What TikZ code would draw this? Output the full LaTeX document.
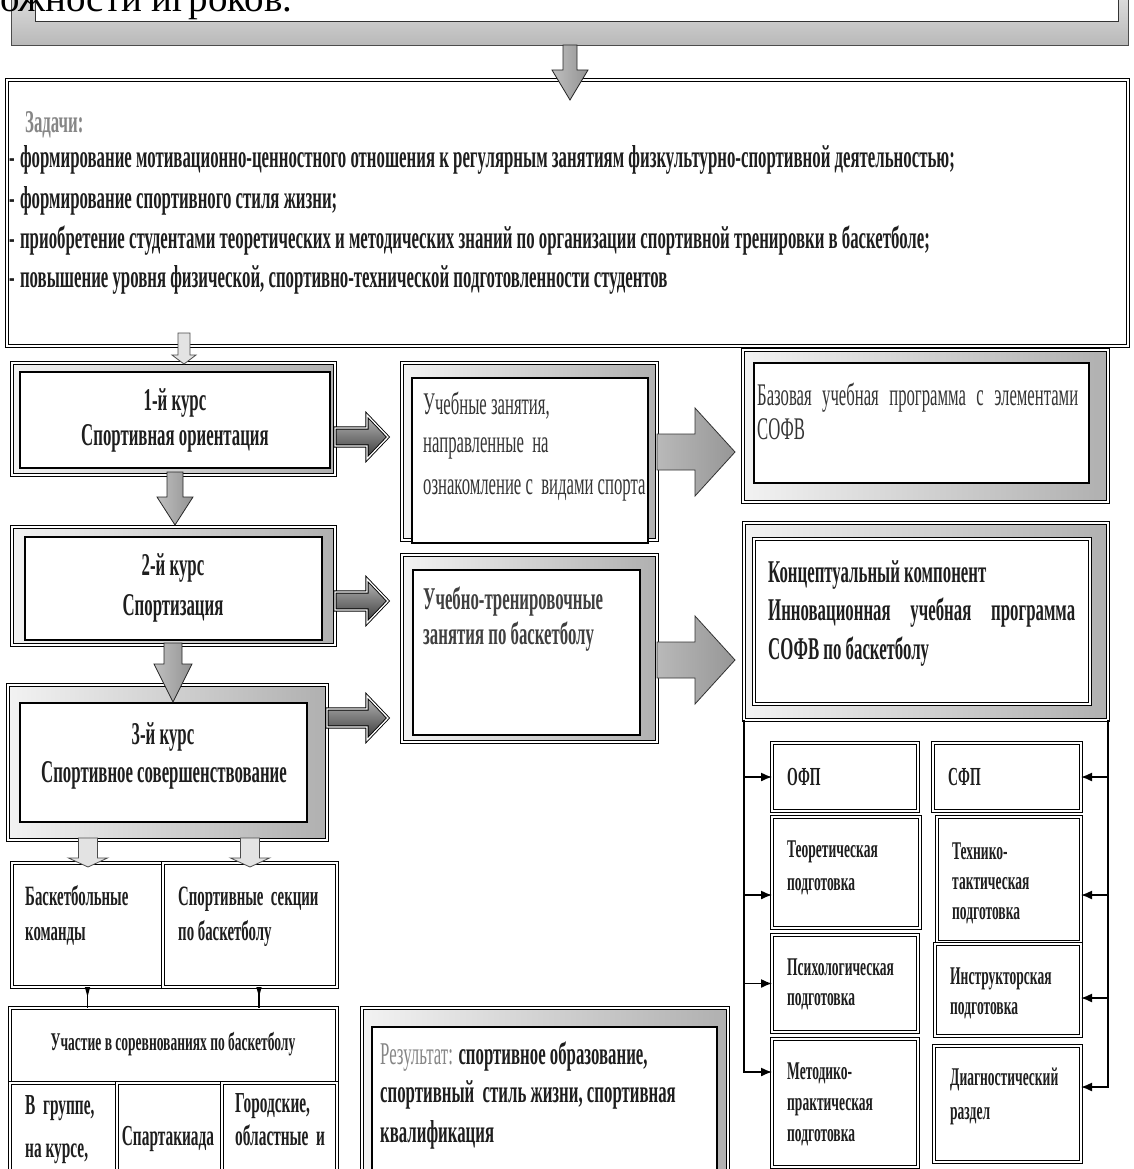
\documentclass[tikz,border=0pt]{standalone}
\usepackage{fontspec}
\setmainfont{Liberation Serif}
\newfontfamily\cnd[FakeStretch=0.53]{Liberation Serif}
\usetikzlibrary{arrows.meta,calc}
\definecolor{ink}{HTML}{1E1E1E}
\definecolor{dim}{HTML}{868686}
\newcommand\fz[1]{\fontsize{#1}{#1}\selectfont}
% rectangle node from its two corners (x1,y1)-(x2,y2)
\newcommand\BoxAt[6]{%
  \pgfmathsetlengthmacro\bxw{#5-#3}%
  \pgfmathsetlengthmacro\bxh{#6-#4}%
  \node[#2, minimum width=\bxw, minimum height=\bxh] (#1) at ({(#3+#5)/2},{(#4+#6)/2}) {};}
% block arrow pointing right: style, x tail, x tip, y centre, stem half, head half, head length
\newcommand\ArrR[7]{%
  \path[#1] (#2,{#4-#5}) -- ({#3-#7},{#4-#5}) -- ({#3-#7},{#4-#6}) -- (#3,#4)
    -- ({#3-#7},{#4+#6}) -- ({#3-#7},{#4+#5}) -- (#2,{#4+#5}) -- cycle;}
% block arrow pointing down: style, x centre, y tail, y tip, stem half, head half, head length
\newcommand\ArrD[7]{%
  \path[#1] ({#2-#5},#3) -- ({#2+#5},#3) -- ({#2+#5},{#4-#7}) -- ({#2+#6},{#4-#7})
    -- (#2,#4) -- ({#2-#6},{#4-#7}) -- ({#2-#5},{#4-#7}) -- cycle;}
\begin{document}
\begin{tikzpicture}[x=1pt,y=-1pt,
  base/.style={rectangle, inner sep=0, outer sep=0},
  dbl/.style={base, draw=black, line width=1.2pt, double=white, double distance=2.2pt, fill=white},
  bev/.style={base, draw=black, line width=1pt, double=white, double distance=1.6pt, left color=gray!10, right color=gray!62},
  inner/.style={base, draw=black, line width=1.3pt, fill=white},
  darr/.style={draw=black!85, line width=0.8pt, left color=gray!50, right color=gray!85},
  larr/.style={draw=gray!60!black, line width=0.8pt, fill=gray!22},
  harr/.style={draw=black, line width=0.9pt, double=white, double distance=1.3pt, top color=gray!55, bottom color=black!78},
  barr/.style={draw=black!80, line width=0.8pt, left color=gray!55, right color=gray!82},
  conn/.style={draw=black, line width=1.4pt, -{Latex[length=11pt,width=9pt]}},
  tarr/.style={draw=black, line width=1.3pt, {Triangle[reversed,length=10pt,width=5pt]}-},
  tl/.style={anchor=mid west, inner sep=0, text=ink, font=\cnd\bfseries\fz{31.7}},
  tc/.style={tl, anchor=mid},
  bl/.style={tl, font=\cnd\bfseries\fz{28}},
  rl/.style={anchor=mid west, inner sep=0, text=ink!90, font=\cnd\fz{31.5}},
  sl/.style={tl, font=\cnd\bfseries\fz{25.5}},
  sc/.style={sl, anchor=mid}]
\useasboundingbox (0,0) rectangle (1134,1169);
\clip (0,0) rectangle (1134,1169);
\fill[white] (0,0) rectangle (1134,1169);

% ---- frame at the top ----
\BoxAt{bandout}{base, draw=black!70, line width=0.8pt, top color=gray!18, bottom color=gray!55}{11}{-20}{1128}{45}
\BoxAt{bandin}{base, draw=black!80, line width=1pt, fill=white}{35}{-20}{1118}{22}
\node[anchor=base west, inner sep=0, font=\fz{39}] (cap) at (0,12) {ожности игроков.};

% ---- tasks ----
\BoxAt{tasks}{dbl}{7}{80}{1128}{346}
\node[tl, text=dim] (tk0) at (25,130) {Задачи:};
\node[tl] (tk1) at (9,165) {-\,формирование мотивационно-ценностного отношения к регулярным занятиям физкультурно-спортивной деятельностью;};
\node[tl] (tk2) at (9,206) {-\,формирование спортивного стиля жизни;};
\node[tl] (tk3) at (9,246) {-\,приобретение студентами теоретических и методических знаний по организации спортивной тренировки в баскетболе;};
\node[tl] (tk4) at (9,285) {-\,повышение уровня физической, спортивно-технической подготовленности студентов};

% ---- courses ----
\BoxAt{c1o}{bev}{12}{363}{335}{475}
\BoxAt{c1}{inner}{20}{372}{330}{468}
\BoxAt{c2o}{bev}{12}{527}{335}{645}
\BoxAt{c2}{inner}{25}{537}{322}{640}
\BoxAt{c3o}{bev}{8}{685}{327}{840}
\BoxAt{c3}{inner}{20}{703}{307}{822}
\node[tc] (c1a) at (175,408) {1-й курс};
\node[tc] (c1b) at (175,443) {Спортивная ориентация};
\node[tc] (c2a) at (173,573) {2-й курс};
\node[tc] (c2b) at (173,613) {Спортизация};
\node[tc] (c3a) at (163,742) {3-й курс};
\node[tc] (c3b) at (164,780) {Спортивное совершенствование};

% ---- teams and competitions ----
\BoxAt{bk}{dbl}{12}{863}{163}{987}
\BoxAt{sec}{dbl}{163}{863}{337}{987}
\BoxAt{part}{dbl}{10}{1008}{337}{1083}
\BoxAt{lv1}{dbl}{10}{1083}{117}{1190}
\BoxAt{lv2}{dbl}{117}{1083}{222}{1190}
\BoxAt{lv3}{dbl}{222}{1083}{337}{1190}
\node[bl] (bka) at (25,903) {Баскетбольные};
\node[bl] (bkb) at (25,938) {команды};
\node[bl] (seca) at (178,903) {Спортивные\ \ секции};
\node[bl] (secb) at (178,938) {по баскетболу};
\node[tc, font=\cnd\bfseries\fz{25.5}] (parta) at (173,1048) {Участие в соревнованиях по баскетболу};
\node[bl, font=\cnd\bfseries\fz{29}] (lv1a) at (25,1112) {В\ \ группе,};
\node[bl, font=\cnd\bfseries\fz{29}] (lv1b) at (25,1155) {на курсе,};
\node[bl, font=\cnd\bfseries\fz{29}, anchor=mid] (lv2a) at (168,1143) {Спартакиада};
\node[bl, font=\cnd\bfseries\fz{29}] (lv3a) at (235,1110) {Городские,};
\node[bl, font=\cnd\bfseries\fz{29}] (lv3b) at (235,1143) {областные\ \ и};

% ---- lessons ----
\BoxAt{m1o}{bev}{402}{363}{657}{540}
\BoxAt{m1}{inner}{412}{378}{648}{543}
\BoxAt{m2o}{bev}{402}{555}{657}{742}
\BoxAt{m2}{inner}{413}{570}{640}{735}
\node[rl] (m1a) at (423,412) {Учебные занятия,};
\node[rl] (m1b) at (423,450) {направленные\ \ на};
\node[rl] (m1c) at (423,492) {ознакомление с\ \ видами спорта};
\node[tl, text=ink!85] (m2a) at (423,607) {Учебно-тренировочные};
\node[tl, text=ink!85] (m2b) at (423,642) {занятия по баскетболу};

% ---- programmes ----
\BoxAt{r1o}{bev}{743}{350}{1108}{502}
\BoxAt{r1}{inner}{754}{363}{1089}{483}
\node[rl] (r1a) at (757,403) {\makebox[321pt][s]{Базовая учебная программа с элементами}};
\node[rl] (r1b) at (757,437) {СОФВ};
\BoxAt{cpto}{bev}{744}{523}{1108}{720}
\BoxAt{cpt}{dbl}{754}{539}{1090}{704}
\node[tl] (cpa) at (768,580) {Концептуальный компонент};
\node[tl] (cpb) at (768,618) {\makebox[307pt][s]{Инновационная учебная программа}};
\node[tl] (cpc) at (768,657) {СОФВ по баскетболу};

% ---- result ----
\BoxAt{reso}{bev}{362}{1008}{728}{1200}
\BoxAt{res}{inner}{372}{1027}{717}{1200}
\node[tl] (rsa) at (380,1062) {{\mdseries\color{dim}Результат:} спортивное образование,};
\node[tl] (rsb) at (380,1100) {спортивный\ \ стиль жизни, спортивная};
\node[tl] (rsc) at (380,1140) {квалификация};

% ---- sections of the programme ----
\BoxAt{ofp}{dbl}{772}{743}{918}{811}
\BoxAt{teo}{dbl}{772}{817}{920}{928}
\BoxAt{psy}{dbl}{772}{935}{918}{1032}
\BoxAt{met}{dbl}{772}{1039}{918}{1167}
\BoxAt{sfp}{dbl}{933}{743}{1081}{811}
\BoxAt{tex}{dbl}{937}{817}{1081}{942}
\BoxAt{ins}{dbl}{935}{944}{1081}{1036}
\BoxAt{dia}{dbl}{934}{1046}{1081}{1162}
\node[sl, font=\cnd\bfseries\fz{26}] (ofpa) at (787,783) {ОФП};
\node[sl] (teoa) at (787,855) {Теоретическая};
\node[sl] (teob) at (787,888) {подготовка};
\node[sl] (psya) at (787,973) {Психологическая};
\node[sl] (psyb) at (787,1003) {подготовка};
\node[sl] (meta) at (787,1077) {Методико-};
\node[sl] (metb) at (787,1108) {практическая};
\node[sl] (metc) at (787,1139) {подготовка};
\node[sl, font=\cnd\bfseries\fz{26}] (sfpa) at (948,783) {СФП};
\node[sl] (texa) at (952,857) {Технико-};
\node[sl] (texb) at (952,887) {тактическая};
\node[sl] (texc) at (952,917) {подготовка};
\node[sl] (insa) at (950,982) {Инструкторская};
\node[sl] (insb) at (950,1012) {подготовка};
\node[sl] (diaa) at (950,1083) {Диагностический};
\node[sl] (diab) at (950,1117) {раздел};

% ---- connectors ----
\draw[conn] (cpto.south west) |- (ofp.west);
\draw[conn] (cpto.south west) |- ([yshift=-22.5pt]teo.west);
\draw[conn] (cpto.south west) |- (psy.west);
\draw[conn] (cpto.south west) |- ([yshift=31pt]met.west);
\draw[conn] (cpto.south east) |- (sfp.east);
\draw[conn] (cpto.south east) |- ([yshift=-15.5pt]tex.east);
\draw[conn] (cpto.south east) |- ([yshift=-8pt]ins.east);
\draw[conn] (cpto.south east) |- ([yshift=17pt]dia.east);
\draw[tarr] (bk.south) -- (bk.south |- part.north);
\draw[tarr] ([xshift=9pt]sec.south) -- ([xshift=9pt]sec.south |- part.north);

% block arrows
\ArrD{darr}{570}{45}{100}{7}{18}{30}
\ArrD{larr}{184}{333}{364}{6}{12}{9}
\ArrR{harr}{335}{388}{437}{9}{22}{21}
\ArrR{harr}{335}{388}{601}{9}{22}{21}
\ArrR{harr}{327}{388}{718}{9}{22}{21}
\ArrD{darr}{175}{472}{525}{8}{18}{28}
\ArrD{darr}{173}{643}{702}{9}{19}{38}
\ArrR{barr}{657}{735}{452}{18}{44}{40}
\ArrR{barr}{657}{735}{660}{18}{44}{40}
\ArrD{larr}{88}{838}{867}{9.5}{19.5}{9}
\ArrD{larr}{250}{838}{867}{9.5}{19.5}{9}
\end{tikzpicture}
\end{document}
